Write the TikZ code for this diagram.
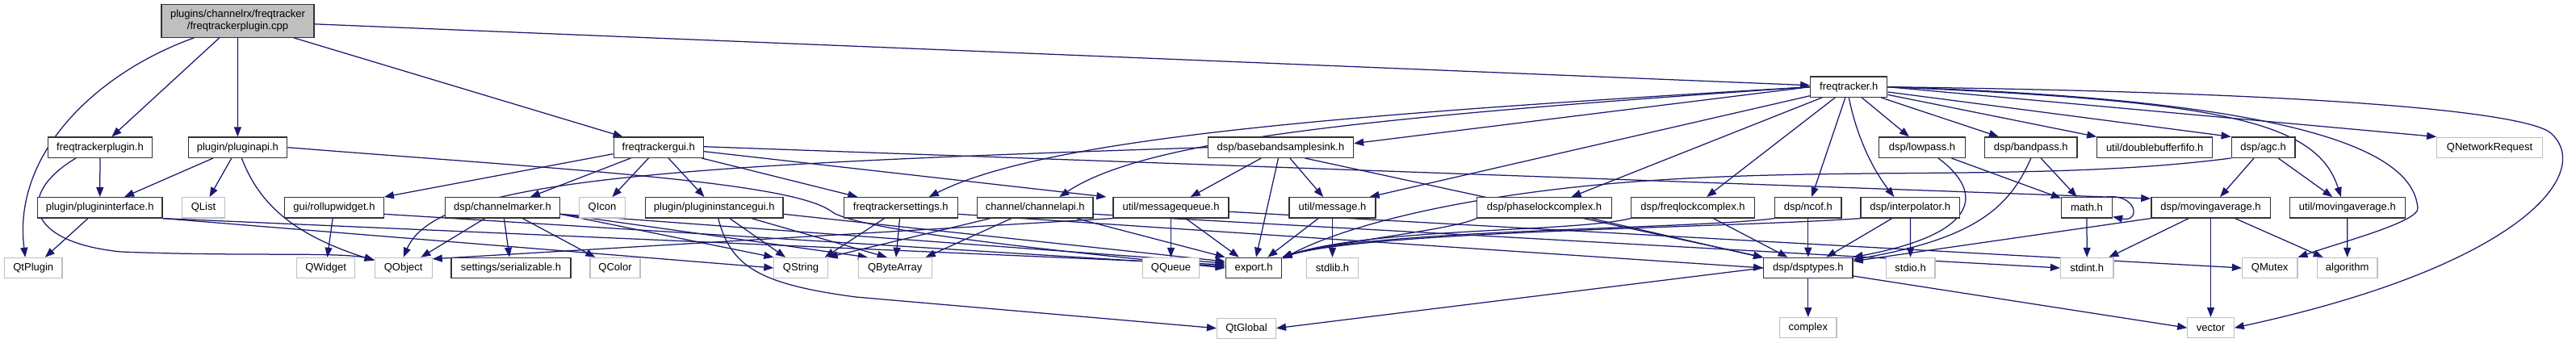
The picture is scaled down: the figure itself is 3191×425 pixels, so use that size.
\documentclass[tikz,border=0pt]{standalone}
\usepackage{fontspec}
\setmainfont{Liberation Sans}
\usetikzlibrary{arrows.meta,backgrounds}
\definecolor{edgec}{HTML}{191970}
\definecolor{grayb}{HTML}{BFBFBF}
\definecolor{rootf}{HTML}{BFBFBF}
\begin{document}
\begin{tikzpicture}[x=1pt,y=-1pt,
  base/.style={rectangle, inner sep=0pt, minimum height=25.3pt, font=\fontsize{13}{15}\selectfont, text=black},
  nb/.style={base, draw=black!80, line width=1.3pt, fill=white},
  ng/.style={base, draw=grayb, line width=1.1pt, fill=white},
  e/.style={draw=edgec, line width=1.25pt, -{Triangle[length=12pt,width=9pt]}}]
\useasboundingbox (0,0) rectangle (3191,425);
% ---- nodes
\node[nb, fill=rootf, minimum width=189pt, minimum height=40.4pt, align=center] (root) at (294.5,26) {plugins/channelrx/freqtracker\\/freqtrackerplugin.cpp};
\node[nb, minimum width=95pt] (ft) at (2290.3,107.7) {freqtracker.h};
% row 2
\node[nb, minimum width=128.6pt] (ftp) at (124,182.7) {freqtrackerplugin.h};
\node[nb, minimum width=122.5pt] (papi) at (294.4,182.7) {plugin/pluginapi.h};
\node[nb, minimum width=111.2pt] (ftgui) at (815.8,182.7) {freqtrackergui.h};
\node[nb, minimum width=180pt] (bbs) at (1586.5,182.7) {dsp/basebandsamplesink.h};
\node[nb, minimum width=107pt] (lp) at (2381,182.7) {dsp/lowpass.h};
\node[nb, minimum width=114.3pt] (bp) at (2515.8,182.7) {dsp/bandpass.h};
\node[nb, minimum width=142.8pt] (dbf) at (2669.2,182.7) {util/doublebufferfifo.h};
\node[nb, minimum width=78.7pt] (agc) at (2803.6,182.7) {dsp/agc.h};
\node[ng, minimum width=130.7pt] (qnr) at (3084,182.7) {QNetworkRequest};
% row 3
\node[nb, minimum width=154.6pt] (pif) at (123.7,257.3) {plugin/plugininterface.h};
\node[ng, minimum width=53pt] (qlist) at (252,257.3) {QList};
\node[nb, minimum width=122.5pt] (ruw) at (414,257.3) {gui/rollupwidget.h};
\node[nb, minimum width=141.8pt] (cm) at (622.5,257.3) {dsp/channelmarker.h};
\node[ng, minimum width=57pt] (qicon) at (746,257.3) {QIcon};
\node[nb, minimum width=170.4pt] (pig) at (884.7,257.3) {plugin/plugininstancegui.h};
\node[nb, minimum width=140.8pt] (fts) at (1115.8,257.3) {freqtrackersettings.h};
\node[nb, minimum width=143.3pt] (capi) at (1282.3,257.3) {channel/channelapi.h};
\node[nb, minimum width=143pt] (mq) at (1450.5,257.3) {util/messagequeue.h};
\node[nb, minimum width=107pt] (msg) at (1650.5,257.3) {util/message.h};
\node[nb, minimum width=166.8pt] (plc) at (1913,257.3) {dsp/phaselockcomplex.h};
\node[nb, minimum width=153pt] (flc) at (2097,257.3) {dsp/freqlockcomplex.h};
\node[nb, minimum width=82.6pt] (ncof) at (2239.8,257.3) {dsp/ncof.h};
\node[nb, minimum width=122.5pt] (interp) at (2366.3,257.3) {dsp/interpolator.h};
\node[nb, minimum width=63pt] (math) at (2585,257.3) {math.h};
\node[nb, minimum width=147.3pt] (dma) at (2738.5,257.3) {dsp/movingaverage.h};
\node[nb, minimum width=142.8pt] (uma) at (2907.8,257.3) {util/movingaverage.h};
% row 4
\node[ng, minimum width=71.4pt] (qtplugin) at (41.3,332) {QtPlugin};
\node[ng, minimum width=72.4pt] (qwidget) at (403.6,332) {QWidget};
\node[ng, minimum width=71pt] (qobject) at (499.7,332) {QObject};
\node[nb, minimum width=148pt] (ser) at (633,332) {settings/serializable.h};
\node[ng, minimum width=62pt] (qcolor) at (762,332) {QColor};
\node[ng, minimum width=66.3pt] (qstring) at (992,332) {QString};
\node[ng, minimum width=90.8pt] (qba) at (1108.7,332) {QByteArray};
\node[ng, minimum width=70.4pt] (qqueue) at (1450.5,332) {QQueue};
\node[nb, minimum width=69.4pt] (export) at (1553,332) {export.h};
\node[ng, minimum width=64.3pt] (stdlib) at (1650.5,332) {stdlib.h};
\node[nb, minimum width=110.2pt] (dsptypes) at (2239.8,332) {dsp/dsptypes.h};
\node[ng, minimum width=60.7pt] (stdio) at (2366.6,332) {stdio.h};
\node[ng, minimum width=65.6pt] (stdint) at (2585.2,332) {stdint.h};
\node[ng, minimum width=68.6pt] (qmutex) at (2811.7,332) {QMutex};
\node[ng, minimum width=74.7pt] (algo) at (2907.6,332) {algorithm};
% row 5
\node[ng, minimum width=73pt] (qtglobal) at (1544,406.7) {QtGlobal};
\node[ng, minimum width=70.4pt] (complex) at (2239.8,406.2) {complex};
\node[ng, minimum width=57.5pt] (vector) at (2738.5,406.2) {vector};
% ---- edges
\begin{scope}[on background layer]
\fill[white] (0,0) rectangle (3191,425);
% root
\draw[e] ([xshift=-54pt]root.south) .. controls (120,90) and (15,190) .. ([xshift=-10pt]qtplugin.north);
\draw[e] (root) -- (ftp);
\draw[e] (root) -- (papi);
\draw[e] (root) -- (ftgui);
\draw[e] (root) -- (ft);
% freqtrackerplugin.h
\draw[e] (ftp) -- (pif);
\draw[e] ([xshift=-30pt]ftp.south) .. controls (20,240) and (30,300) .. (150,312) .. controls (300,318) and (420,312) .. ([yshift=-3pt]qobject.north west);
% pluginapi.h
\draw[e] (papi) -- (pif);
\draw[e] (papi) -- (qlist);
\draw[e] ([xshift=5pt]papi.south) .. controls (320,250) and (360,290) .. ([yshift=-4pt]qobject.north west);
\draw[e] (papi.east) .. controls (700,210) and (980,225) .. (1030,262) .. controls (1060,285) and (1300,310) .. (export.west);
% plugininterface.h
\draw[e] (pif) -- (qtplugin);
\draw[e] (pif.south east) -- (qstring.west);
\draw[e] (pif.south east) -- ([yshift=4pt]export.west);
% rollupwidget.h
\draw[e] (ruw) -- (qwidget);
\draw[e] ([yshift=-8pt]ruw.east) -- ([yshift=2pt]export.west);
% channelmarker.h
\draw[e] (cm) -- (qobject);
\draw[e] (cm) -- (ser);
\draw[e] (cm) -- (qcolor);
\draw[e] ([yshift=-8pt]cm.east) -- (qstring.north west);
\draw[e] ([yshift=-8pt]cm.east) -- ([xshift=12pt]qba.north west);
\draw[e] ([yshift=-8pt]cm.east) -- ([yshift=6pt]export.west);
% freqtrackergui.h
\draw[e] ([yshift=-8pt]ftgui.west) -- (ruw.north east);
\draw[e] (ftgui) -- (cm);
\draw[e] (ftgui) -- (qicon);
\draw[e] (ftgui) -- (pig);
\draw[e] (ftgui) -- (fts);
\draw[e] ([yshift=-5pt]ftgui.east) -- ([xshift=-8pt]mq.north west);
\draw[e] ([yshift=1pt]ftgui.east) -- ([yshift=-2pt]dma.north west);
% plugininstancegui.h
\draw[e] ([xshift=5pt]pig.south) .. controls (905,330) and (940,352) .. (1060,368) -- (qtglobal.west);
\draw[e] (pig) -- (qstring);
\draw[e] (pig) -- ([xshift=-10pt]qba.north);
\draw[e] ([yshift=-8pt]pig.east) -- ([yshift=8pt]export.west);
% freqtrackersettings.h
\draw[e] (fts) -- ([xshift=-4pt]qstring.north east);
\draw[e] (fts) -- (qba);
\draw[e] ([yshift=-8pt]fts.east) -- (dsptypes.west);
% channelapi.h
\draw[e] (capi) -- (qstring.north east);
\draw[e] (capi) -- ([xshift=-8pt]qba.north east);
\draw[e] (capi) -- (export.north west);
\draw[e] ([yshift=-8pt]capi.east) -- (stdint.west);
% messagequeue.h
\draw[e] (mq) -- (qqueue);
\draw[e] (mq) -- (export);
\draw[e] (mq.south west) -- ([yshift=-2pt]qobject.north east);
\draw[e] ([yshift=-5pt]mq.east) -- (qmutex.west);
% basebandsamplesink.h
\draw[e] (bbs.west) .. controls (800,205) and (540,225) .. (qobject.north);
\draw[e] (bbs) -- (mq);
\draw[e] (bbs) -- (export);
\draw[e] (bbs) -- (msg);
\draw[e] ([xshift=30pt]bbs.south) -- (dsptypes.north west);
% message.h
\draw[e] (msg) -- (export);
\draw[e] (msg) -- (stdlib);
% phaselock / freqlock / ncof / interpolator
\draw[e] (plc) -- (dsptypes);
\draw[e] (plc.south west) .. controls (1800,285) and (1650,300) .. (export.north east);
\draw[e] (flc) -- (dsptypes);
\draw[e] (flc.south west) .. controls (1950,288) and (1700,282) .. (export.north east);
\draw[e] (ncof) -- (dsptypes);
\draw[e] (ncof.south west) .. controls (2100,284) and (1700,284) .. (export.north east);
\draw[e] (interp) -- (dsptypes);
\draw[e] (interp) -- (stdio);
\draw[e] (interp.south west) .. controls (2150,282) and (1700,286) .. (export.north east);
% lowpass / bandpass
\draw[e] (lp) -- (math);
\draw[e] ([xshift=20pt]lp.south) .. controls (2460,240) and (2450,290) .. (dsptypes.north east);
\draw[e] (bp) -- (math);
\draw[e] (bp.south) .. controls (2490,255) and (2450,295) .. ([yshift=-3pt]dsptypes.north east);
% agc
\draw[e] (agc) -- (dma);
\draw[e] (agc) -- (uma);
\draw[e] (agc.south west) .. controls (2500,230) and (2200,198) .. (1900,238) .. controls (1750,258) and (1650,288) .. ([yshift=-2pt]export.north east);
% movingaverages, math
\draw[e] (dma) -- (stdint);
\draw[e] (dma) -- (vector);
\draw[e] (dma) -- (algo);
\draw[e] (dma.south west) -- ([yshift=-5pt]dsptypes.north east);
\draw[e] (uma) -- (algo);
\draw[e] ([xshift=-8pt]math.north east) .. controls (2648,240) and (2652,276) .. ([yshift=2pt]math.south east);
\draw[e] (math) -- (stdint);
% dsptypes
\draw[e] (dsptypes) -- (complex);
\draw[e] (dsptypes.west) -- (qtglobal.east);
\draw[e] ([yshift=-10pt]dsptypes.east) -- (vector.west);
% freqtracker.h
\draw[e] (ft.west) .. controls (1700,140) and (1300,168) .. ([xshift=35pt]fts.north);
\draw[e] (ft.west) .. controls (1700,145) and (1420,172) .. ([xshift=30pt]capi.north);
\draw[e] (ft.west) -- ([yshift=5pt]bbs.east);
\draw[e] (ft) -- ([xshift=-8pt]msg.north east);
\draw[e] (ft) -- (plc);
\draw[e] (ft) -- (flc);
\draw[e] (ft) -- (ncof);
\draw[e] (ft.south) .. controls (2300,170) and (2320,210) .. ([xshift=-20pt]interp.north);
\draw[e] (ft) -- (lp);
\draw[e] (ft) -- (bp);
\draw[e] (ft) -- (dbf.north west);
\draw[e] (ft) -- (agc.north west);
\draw[e] (ft.east) .. controls (2750,125) and (2870,150) .. ([xshift=-8pt]uma.north);
\draw[e] (ft.east) .. controls (2900,125) and (2990,200) .. (2995,258) .. controls (2996,275) and (2900,300) .. (qmutex.north east);
\draw[e] (ft.east) -- (qnr.north west);
\draw[e] (ft.east) .. controls (2900,115) and (3130,140) .. (3160,165) .. controls (3215,215) and (3120,330) .. (vector.east);
\end{scope}
\end{tikzpicture}
\end{document}
